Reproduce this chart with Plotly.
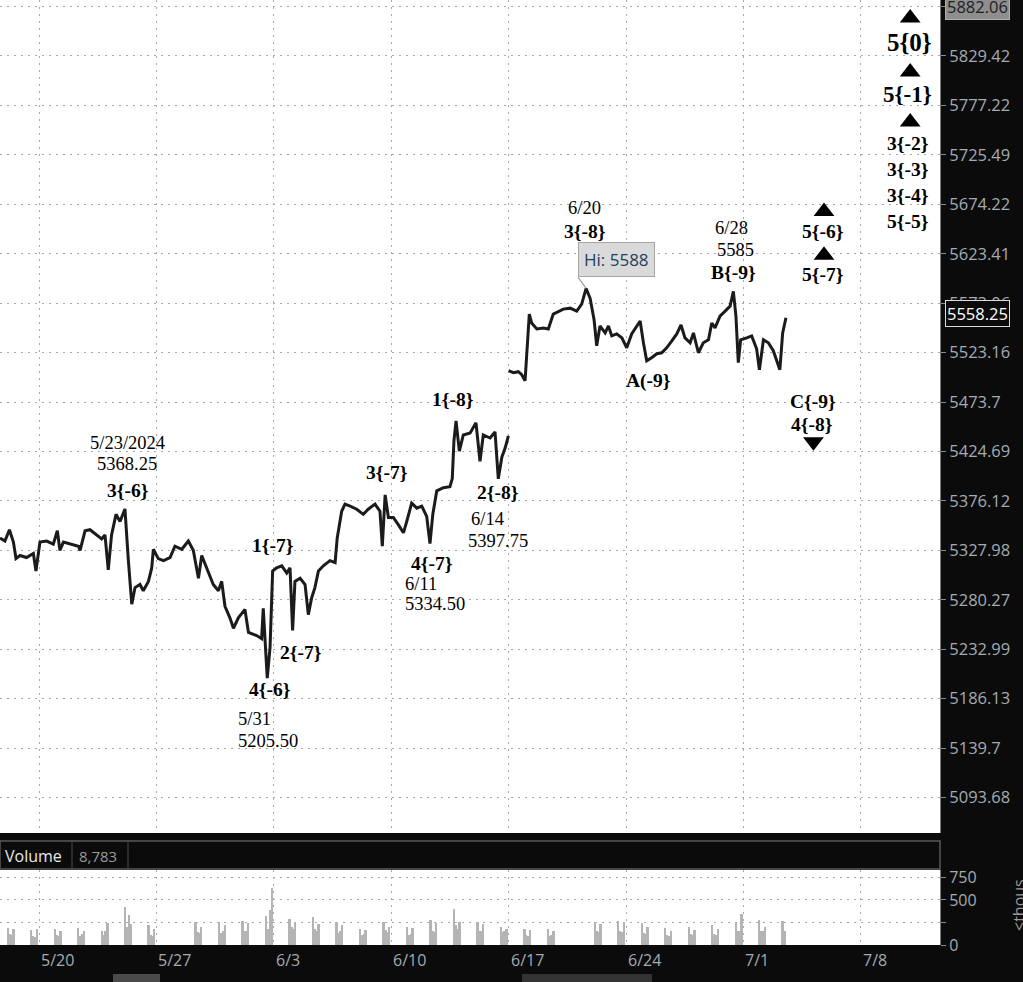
import math
import plotly.graph_objects as go

# ---------------- data ----------------
# x unit = trading session day, 0 = session of Mon 5/20 (weekends compressed)
week_ticks = [0, 5, 10, 15, 20, 25, 30, 35]
week_labels = ["5/20", "5/27", "6/3", "6/10", "6/17", "6/24", "7/1", "7/8"]

# front-month leg (up to 6/14)
t_a = [-1.66, -1.45, -1.26, -1.09, -0.98, -0.81, -0.53, -0.24, -0.13, 0.04,
       0.33, 0.61, 0.78, 0.89, 1.04, 1.32, 1.68, 1.75, 1.96, 2.17,
       2.46, 2.67, 2.81, 2.95, 3.09, 3.28, 3.45, 3.66, 3.80, 3.95,
       4.09, 4.30, 4.44, 4.66, 4.80, 4.87, 5.08, 5.30, 5.58, 5.79,
       6.08, 6.36, 6.57, 6.79, 6.93, 7.14, 7.42, 7.64, 7.78, 7.92,
       8.13, 8.28, 8.49, 8.77, 8.92, 9.27, 9.48, 9.55, 9.63, 9.72,
       9.84, 9.95, 10.12, 10.34, 10.55, 10.69, 10.80, 10.90, 11.12, 11.33,
       11.47, 11.61, 11.75, 11.90, 12.11, 12.39, 12.61, 12.70, 12.89, 13.03,
       13.25, 13.53, 13.81, 14.02, 14.31, 14.52, 14.62, 14.74, 14.88, 15.09,
       15.30, 15.52, 15.66, 15.87, 16.09, 16.30, 16.51, 16.65, 16.77, 16.94,
       17.22, 17.50, 17.60, 17.67, 17.76, 17.90, 18.07, 18.36, 18.61, 18.78,
       18.92, 19.21, 19.42, 19.56, 19.71, 19.85, 19.99]
p_a = [5340, 5337, 5348, 5336, 5320, 5323, 5321, 5325, 5308, 5336,
       5337, 5334, 5347, 5328, 5336, 5334, 5332, 5328, 5347, 5348,
       5343, 5339, 5343, 5309, 5343, 5363, 5356, 5368.25, 5320, 5276,
       5292, 5295, 5289, 5298, 5311, 5329, 5320, 5318, 5321, 5332,
       5329, 5337, 5328, 5301, 5323, 5311, 5295, 5289, 5298, 5274,
       5263, 5253, 5263, 5271, 5249, 5246, 5243, 5272, 5235, 5205.5,
       5235, 5308, 5311, 5313, 5306, 5311, 5251, 5298, 5301, 5295,
       5266, 5282, 5292, 5308, 5313, 5318, 5316, 5340, 5366, 5373,
       5371, 5368, 5363, 5368, 5373, 5366, 5332, 5382, 5360, 5360,
       5353, 5345, 5356, 5374, 5369, 5371, 5361, 5334.5, 5363, 5386,
       5389, 5390, 5398, 5435, 5455, 5425, 5441, 5443, 5453, 5415,
       5441, 5438, 5444, 5397.75, 5419, 5428, 5440]

# next-contract leg (from 6/17)
t_b = [20.00, 20.20, 20.41, 20.56, 20.70, 20.80, 20.88, 20.98, 21.20, 21.48,
       21.69, 21.90, 22.12, 22.33, 22.62, 22.90, 23.11, 23.30, 23.47, 23.64,
       23.75, 23.89, 24.11, 24.25, 24.39, 24.60, 24.82, 25.03, 25.24, 25.46,
       25.60, 25.74, 25.88, 26.09, 26.31, 26.52, 26.73, 26.95, 27.16, 27.34,
       27.51, 27.73, 27.87, 28.08, 28.29, 28.51, 28.65, 28.79, 29.00, 29.22,
       29.43, 29.57, 29.68, 29.78, 29.88, 30.14, 30.35, 30.56, 30.68, 30.85,
       31.06, 31.27, 31.41, 31.55, 31.67, 31.81]
p_b = [5505, 5503, 5504, 5501, 5495, 5527, 5562, 5553, 5547, 5548,
       5547, 5562, 5565, 5567, 5568, 5565, 5572, 5588, 5578, 5556,
       5530, 5550, 5543, 5550, 5540, 5542, 5538, 5528, 5542, 5550,
       5555, 5533, 5515, 5518, 5522, 5523, 5528, 5535, 5542, 5551,
       5538, 5533, 5543, 5523, 5533, 5536, 5553, 5548, 5560, 5565,
       5570, 5585, 5560, 5513, 5536, 5538, 5540, 5527, 5506, 5536,
       5533, 5525, 5515, 5506, 5543, 5558.25]

price_ticks = [5882.06, 5829.42, 5777.22, 5725.49, 5674.22, 5623.41, 5573.06,
               5523.16, 5473.7, 5424.69, 5376.12, 5327.98, 5280.27, 5232.99,
               5186.13, 5139.7, 5093.68]
last_price = 5558.25
top_price_label = 5882.06

# volume (thousands), bars per regular session hour block
vol_days = [-2, -1, 0, 1, 2, 3, 4, 6, 7, 8, 9, 10, 11, 12, 13, 14, 15, 16, 17,
            18, 19, 20, 21, 23, 24, 25, 26, 27, 28, 29, 30, 31]
vol_values = [[190, 120, 110, 180], [170, 100, 90, 175], [175, 110, 100, 160],
              [190, 100, 120, 150], [150, 110, 160, 243], [417, 200, 338, 230],
              [225, 110, 100, 180], [250, 140, 130, 200], [250, 130, 150, 220],
              [270, 150, 160, 240], [320, 180, 392, 630], [290, 200, 180, 250],
              [316, 180, 150, 230], [250, 130, 150, 220], [175, 110, 120, 170],
              [250, 170, 140, 200], [200, 110, 120, 190], [280, 150, 140, 240],
              [400, 220, 180, 250], [254, 160, 150, 230], [196, 140, 150, 180],
              [175, 110, 100, 170], [180, 100, 110, 160], [250, 150, 140, 230],
              [270, 150, 140, 260], [240, 130, 120, 200], [185, 110, 100, 160],
              [200, 120, 110, 170], [225, 120, 110, 180], [250, 160, 150, 345],
              [280, 160, 150, 200], [270, 150]]
vol_hour_offsets = [0.68, 0.76, 0.84, 0.92]
vol_ticks = [0, 250, 500, 750]
vol_tick_text = ["0", "", "500", "750"]
volume_total = "8,783"

# wave labels (text, session-day, price)
wave_text = ["5/23/2024", "5368.25", "3{-6}", "1{-7}", "4{-6}", "5/31", "5205.50",
             "2{-7}", "3{-7}", "4{-7}", "6/11", "5334.50", "1{-8}", "2{-8}",
             "6/14", "5397.75", "6/20", "3{-8}", "6/28", "5585", "B{-9}", "A(-9}",
             "C{-9}", "4{-8}", "5{-6}", "5{-7}", "5{0}", "5{-1}", "3{-2}", "3{-3}",
             "3{-4}", "5{-5}"]
wave_t = [3.75, 3.75, 3.81, 9.97, 9.84, 9.16, 9.75,
          11.16, 14.82, 16.74, 16.27, 16.87, 17.63, 19.55,
          19.08, 19.55, 23.21, 23.25, 29.51, 29.64, 29.56, 25.94,
          32.96, 32.90, 33.39, 33.37, 37.05, 36.97, 37.01, 37.01,
          37.01, 37.01]
wave_p = [5433.0, 5412.2, 5386.7, 5332.2, 5195.2, 5167.0, 5146.3,
          5229.4, 5404.4, 5315.6, 5295.4, 5276.2, 5476.7, 5384.8,
          5358.4, 5337.0, 5670.4, 5645.7, 5649.8, 5627.2, 5604.7, 5494.7,
          5474.0, 5450.9, 5645.7, 5601.7, 5844.2, 5789.2, 5737.8, 5710.7,
          5683.8, 5657.0]

tri_up_t = [37.10, 37.10, 37.10, 33.43, 33.43]
tri_up_p = [5869.8, 5812.4, 5759.8, 5666.8, 5621.8]
tri_dn_t = [32.98]
tri_dn_p = [5434.3]

# ---------------- figure ----------------
W, H = 1023, 982
X_RANGE = [-1.661, 38.37]
Y_RANGE = [math.log10(5060.9), math.log10(5889.1)]
PANEL_R = 940 / W
GRID = "#a8a8a8"
AXIS_TXT = "#a4abb2"


def py(p):
    return 1 - p / H


fig = go.Figure()
for tx, px in ((t_a, p_a), (t_b, p_b)):
    fig.add_trace(go.Scatter(x=tx, y=px, mode="lines", xaxis="x", yaxis="y",
                             line=dict(color="#1b1b1b", width=3),
                             hoverinfo="skip", showlegend=False))

fig.add_trace(go.Scatter(x=tri_up_t, y=tri_up_p, mode="markers", xaxis="x", yaxis="y",
                         marker=dict(symbol="triangle-up", size=18, color="black"),
                         hoverinfo="skip", showlegend=False))
fig.add_trace(go.Scatter(x=tri_dn_t, y=tri_dn_p, mode="markers", xaxis="x", yaxis="y",
                         marker=dict(symbol="triangle-down", size=18, color="black"),
                         hoverinfo="skip", showlegend=False))

vx, vy = [], []
for d, vals in zip(vol_days, vol_values):
    for k, v in enumerate(vals):
        vx.append(d + vol_hour_offsets[k])
        vy.append(v)
fig.add_trace(go.Bar(x=vx, y=vy, width=0.08, xaxis="x2", yaxis="y2",
                     marker=dict(color="#b4b4b4", line=dict(width=0)),
                     hoverinfo="skip", showlegend=False))

annotations = []
big = {"5{0}": 25, "5{-1}": 23}
for txt, t, p in zip(wave_text, wave_t, wave_p):
    bold = ("{" in txt) or ("(" in txt)
    size = big.get(txt, 19.5 if bold else 18.5)
    annotations.append(dict(x=t, y=math.log10(p), xref="x", yref="y",
                            text=f"<b>{txt}</b>" if bold else txt, showarrow=False,
                            font=dict(family="Liberation Serif", size=size, color="black")))

hi = max(p_b)
hi_t = t_b[p_b.index(hi)]
annotations.append(dict(x=hi_t, y=math.log10(hi), xref="x", yref="y",
                        text=f"Hi: {hi:g}", showarrow=True, arrowhead=0,
                        arrowwidth=1.2, arrowcolor="#9c9c9c", ax=-8, ay=-11,
                        xanchor="left", yanchor="bottom",
                        bgcolor="#dadada", bordercolor="#a5a5a5", borderwidth=1,
                        borderpad=5,
                        font=dict(family="Open Sans", size=17, color="#22405e")))

# right-axis value boxes
annotations.append(dict(x=945 / W, y=math.log10(last_price), xref="paper", yref="y",
                        xanchor="left", yanchor="middle", yshift=4, text=f"{last_price:.2f}",
                        showarrow=False, bgcolor="#0b0b0b", bordercolor="#dcdcdc",
                        borderwidth=1, borderpad=1,
                        font=dict(family="Open Sans", size=16.5, color="white")))
annotations.append(dict(x=945 / W, y=math.log10(top_price_label), xref="paper", yref="y",
                        xanchor="left", yanchor="middle", text=f"{top_price_label:.2f}",
                        showarrow=False, bgcolor="#8e8e8e", bordercolor="#b0b0b0",
                        borderwidth=1, borderpad=1,
                        font=dict(family="Open Sans", size=16.5, color="#1e1e1e")))

# date labels in bottom band
for t, lab in zip(week_ticks, week_labels):
    annotations.append(dict(x=t, y=py(960), xref="x2", yref="paper", xanchor="left",
                            yanchor="middle", text=lab, showarrow=False,
                            font=dict(family="Open Sans", size=16, color=AXIS_TXT)))

# volume header
annotations.append(dict(x=3 / W, y=py(856), xref="paper", yref="paper", xanchor="left",
                        yanchor="middle", text="Volume", showarrow=False,
                        font=dict(family="Open Sans", size=16, color="#e8e8e8")))
annotations.append(dict(x=77 / W, y=py(856), xref="paper", yref="paper", xanchor="left",
                        yanchor="middle", text=volume_total, showarrow=False,
                        font=dict(family="Open Sans", size=15, color="#9a9a9a")))
annotations.append(dict(x=1019 / W, y=py(905), xref="paper", yref="paper",
                        xanchor="center", yanchor="middle", text="&lt;thous",
                        textangle=-90, showarrow=False,
                        font=dict(family="Open Sans", size=16, color="#9a9a9a")))

shapes = [
    dict(type="rect", xref="paper", yref="paper", x0=0, x1=PANEL_R, y0=py(869), y1=py(841),
         line=dict(color="#5a5a5a", width=1.5), fillcolor="#0b0b0b", layer="below"),
    dict(type="line", xref="paper", yref="paper", x0=72 / W, x1=72 / W, y0=py(869), y1=py(841),
         line=dict(color="#4a4a4a", width=1)),
    dict(type="line", xref="paper", yref="paper", x0=128 / W, x1=128 / W, y0=py(869), y1=py(841),
         line=dict(color="#4a4a4a", width=1)),
    dict(type="rect", xref="paper", yref="paper", x0=113 / W, x1=160 / W, y0=0, y1=py(974),
         line=dict(width=0), fillcolor="#4a4a4a"),
    dict(type="rect", xref="paper", yref="paper", x0=522 / W, x1=652 / W, y0=0, y1=py(974),
         line=dict(width=0), fillcolor="#333333"),
]

grid_common = dict(showgrid=True, gridcolor=GRID, griddash="2px,5px", gridwidth=1,
                   zeroline=False, automargin=False)

fig.update_layout(
    template="none",
    width=W, height=H, autosize=False,
    margin=dict(l=0, r=0, t=0, b=0, pad=0, autoexpand=False),
    paper_bgcolor="#0b0b0b", plot_bgcolor="white",
    showlegend=False, bargap=0,
    xaxis=dict(domain=[0, PANEL_R], range=X_RANGE, anchor="y", tickvals=week_ticks,
               showticklabels=False, ticks="", **grid_common),
    yaxis=dict(domain=[py(833), 1], type="log", range=Y_RANGE, anchor="x", side="right",
               tickvals=price_ticks, ticktext=[f"{v:g}" for v in price_ticks],
               ticks="outside", ticklen=5, tickcolor="#8a8a8a",
               tickfont=dict(family="Open Sans", size=16.5, color=AXIS_TXT),
               showline=True, linecolor="#7a7a7a", linewidth=1, **grid_common),
    xaxis2=dict(domain=[0, PANEL_R], range=X_RANGE, anchor="y2", tickvals=week_ticks,
                showticklabels=False, ticks="", **grid_common),
    yaxis2=dict(domain=[py(945), py(870)], range=[0, 833], anchor="x2", side="right",
                tickvals=vol_ticks, ticktext=vol_tick_text,
                ticks="outside", ticklen=5, tickcolor="#8a8a8a",
                tickfont=dict(family="Open Sans", size=16, color=AXIS_TXT),
                showline=True, linecolor="#7a7a7a", linewidth=1, **grid_common),
    annotations=annotations,
    shapes=shapes,
)

fig.write_html("out.html", config={"displayModeBar": False},
               post_script="document.body.style.margin='0';document.body.style.background='#0b0b0b';")
